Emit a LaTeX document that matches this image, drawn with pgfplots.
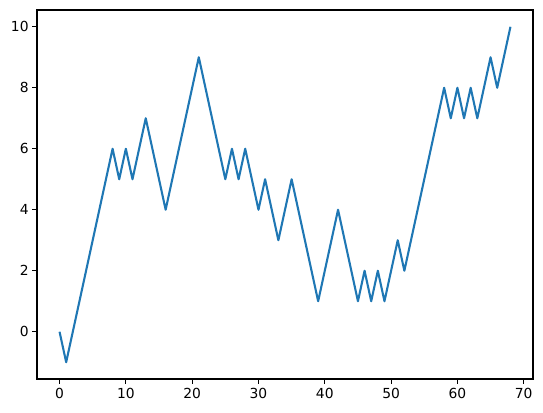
\documentclass[border=0pt]{standalone}
\usepackage{fontspec}
\setmainfont{DejaVu Sans}
\usepackage{pgfplots}
\pgfplotsset{compat=1.18}
\definecolor{mplblue}{HTML}{1F77B4}
\begin{document}
\begin{tikzpicture}
\begin{axis}[
    width=496bp, height=369bp, scale only axis,
    xmin=-3.4, xmax=71.4, ymin=-1.55, ymax=10.55,
    xtick={0,10,...,70}, ytick={0,2,...,10},
    tick align=outside, tick pos=left,
    major tick length=4.86bp,
    every tick/.style={black, line width=1.11bp},
    axis line style={line width=1.11bp},
    /pgf/number format/assume math mode=true,
    tick label style={font=\fontsize{13.9}{16}\selectfont},
    xticklabel style={yshift=-1bp},
    ]
\addplot[mplblue, line width=2.08bp, line join=round] coordinates {
(0,0)(1,-1)(2,0)(3,1)(4,2)(5,3)(6,4)(7,5)(8,6)(9,5)(10,6)
(11,5)(12,6)(13,7)(14,6)(15,5)(16,4)(17,5)(18,6)(19,7)(20,8)
(21,9)(22,8)(23,7)(24,6)(25,5)(26,6)(27,5)(28,6)(29,5)(30,4)
(31,5)(32,4)(33,3)(34,4)(35,5)(36,4)(37,3)(38,2)(39,1)(40,2)
(41,3)(42,4)(43,3)(44,2)(45,1)(46,2)(47,1)(48,2)(49,1)(50,2)
(51,3)(52,2)(53,3)(54,4)(55,5)(56,6)(57,7)(58,8)(59,7)(60,8)
(61,7)(62,8)(63,7)(64,8)(65,9)(66,8)(67,9)(68,10)
};
\end{axis}
\path ([shift={(-37bp,-34bp)}]current axis.south west) rectangle ([shift={(10bp,10bp)}]current axis.north east);
\end{tikzpicture}
\end{document}
